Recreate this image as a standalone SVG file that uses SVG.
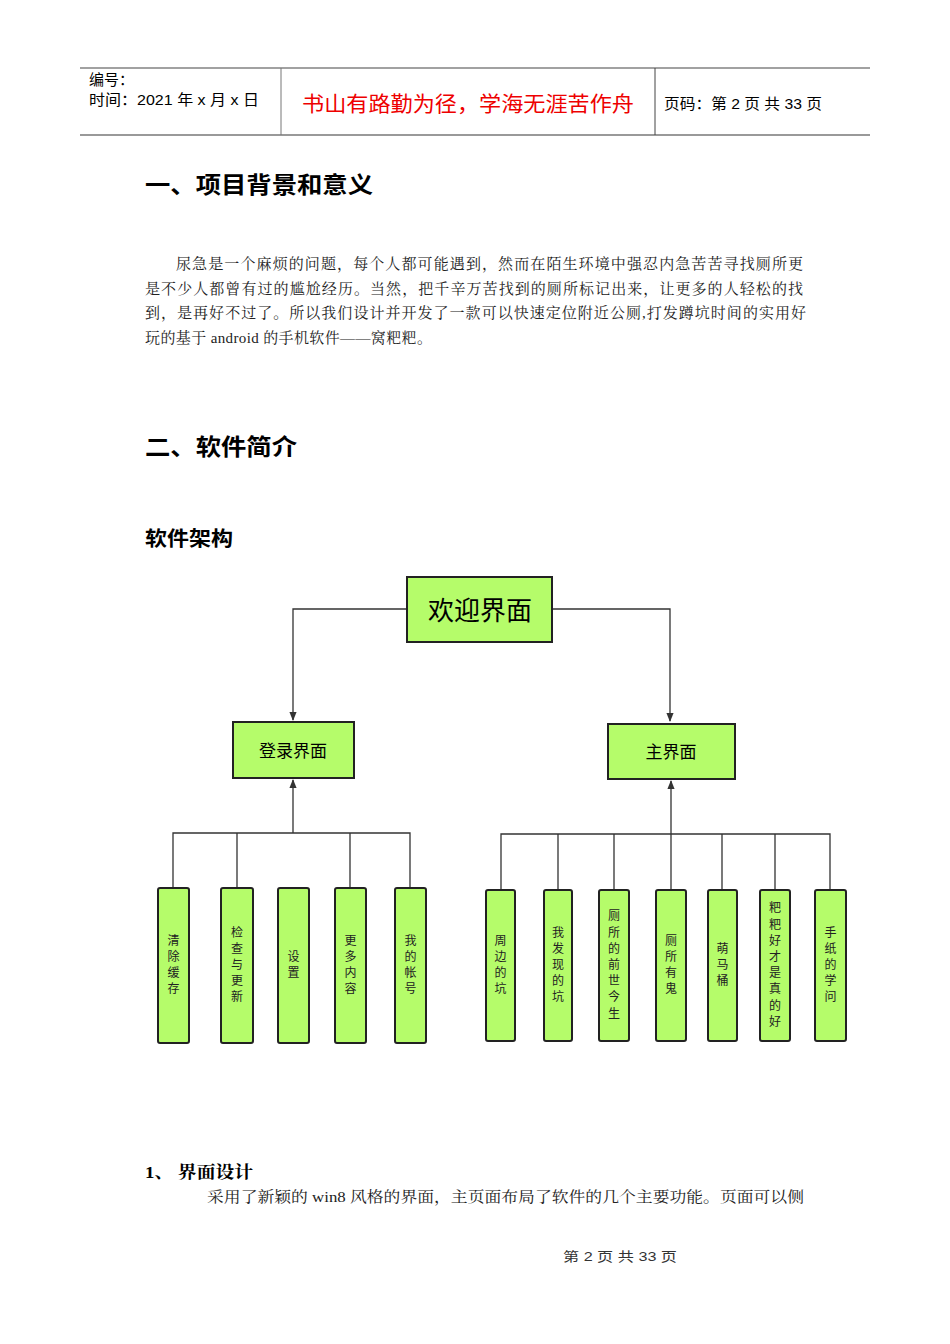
<svg xmlns="http://www.w3.org/2000/svg" width="950" height="1344" viewBox="0 0 950 1344">
<defs><style>
.s{font-family:"Liberation Sans","Noto Sans CJK SC",sans-serif}
.r{font-family:"Liberation Serif","Noto Serif CJK SC","Noto Sans CJK SC",serif}
.b{fill:#b5fc6a;stroke:#222;stroke-width:2}
.c{fill:none;stroke:#333;stroke-width:1.3}
.v{font-family:"Noto Sans CJK SC",sans-serif;font-size:12px;fill:#222;text-anchor:middle}
</style>
<marker id="a" viewBox="0 0 10 10" refX="9" refY="5" markerWidth="7" markerHeight="9" orient="auto"><path d="M0,1 L10,5 L0,9z" fill="#333"/></marker></defs>
<rect width="950" height="1344" fill="#fff"/>
<g id="header">
<line x1="80" y1="68" x2="870" y2="68" stroke="#444" stroke-width="1.2"/>
<line x1="80" y1="135" x2="870" y2="135" stroke="#777" stroke-width="1.5"/>
<line x1="281" y1="68" x2="281" y2="135" stroke="#777"/>
<line x1="655" y1="68" x2="655" y2="135" stroke="#444"/>
<text x="89" y="85" class="s" font-size="15">编号：</text>
<text x="89" y="105" class="s" font-size="15" textLength="170" lengthAdjust="spacingAndGlyphs">时间：2021 年 x 月 x 日</text>
<text x="302" y="111" class="s" font-size="21" fill="#e00" textLength="332" lengthAdjust="spacingAndGlyphs">书山有路勤为径，学海无涯苦作舟</text>
<text x="664" y="109" class="s" font-size="15" textLength="158" lengthAdjust="spacingAndGlyphs">页码：第 2 页  共 33 页</text>
</g>
<text x="145" y="193" class="s" font-size="23" font-weight="bold" textLength="228" lengthAdjust="spacingAndGlyphs">一、项目背景和意义</text>
<g class="r" font-size="15" fill="#222" lengthAdjust="spacingAndGlyphs">
<text x="176" y="269" textLength="627">尿急是一个麻烦的问题，每个人都可能遇到，然而在陌生环境中强忍内急苦苦寻找厕所更</text>
<text x="145" y="294" textLength="658">是不少人都曾有过的尴尬经历。当然，把千辛万苦找到的厕所标记出来，让更多的人轻松的找</text>
<text x="145" y="318" textLength="661">到，是再好不过了。所以我们设计并开发了一款可以快速定位附近公厕,打发蹲坑时间的实用好</text>
<text x="145" y="343" textLength="287">玩的基于 android 的手机软件——窝粑粑。</text>
</g>
<text x="145" y="455" class="s" font-size="23" font-weight="bold" textLength="152" lengthAdjust="spacingAndGlyphs">二、软件简介</text>
<text x="145" y="546" class="s" font-size="20" font-weight="bold" textLength="88" lengthAdjust="spacingAndGlyphs">软件架构</text>
<g id="connectors">
<path class="c" d="M407,609 H293 V720" marker-end="url(#a)"/>
<path class="c" d="M552,609 H670 V721" marker-end="url(#a)"/>
<path class="c" d="M173,888 V833 H410 V888 M237,833 V888 M350,833 V888 M293,833 V780" marker-end="url(#a)"/>
<path class="c" d="M501,890 V834 H830 V890 M558,834 V890 M614,834 V890 M722,834 V890 M775,834 V890 M671,834 V781" marker-end="url(#a)"/>
<path class="c" d="M671,834 V890"/>
</g>
<g id="n-welcome"><rect class="b" x="407" y="577" width="145" height="65"/><text x="480" y="620" class="s" font-size="26" text-anchor="middle">欢迎界面</text></g>
<g id="n-login"><rect class="b" x="233" y="722" width="121" height="56"/><text x="293" y="757" class="s" font-size="17" text-anchor="middle">登录界面</text></g>
<g id="n-main"><rect class="b" x="608" y="724" width="127" height="55"/><text x="671" y="758" class="s" font-size="17" text-anchor="middle">主界面</text></g>
<g id="n1"><rect class="b" x="158" y="888" width="31" height="155" rx="2"/><text class="v"><tspan x="173.5" y="945">清</tspan><tspan x="173.5" y="961">除</tspan><tspan x="173.5" y="977">缓</tspan><tspan x="173.5" y="993">存</tspan></text></g>
<g id="n2"><rect class="b" x="221" y="888" width="32" height="155" rx="2"/><text class="v"><tspan x="237" y="937">检</tspan><tspan x="237" y="953">查</tspan><tspan x="237" y="969">与</tspan><tspan x="237" y="985">更</tspan><tspan x="237" y="1001">新</tspan></text></g>
<g id="n3"><rect class="b" x="278" y="888" width="31" height="155" rx="2"/><text class="v"><tspan x="293.5" y="961">设</tspan><tspan x="293.5" y="977">置</tspan></text></g>
<g id="n4"><rect class="b" x="335" y="888" width="31" height="155" rx="2"/><text class="v"><tspan x="350.5" y="945">更</tspan><tspan x="350.5" y="961">多</tspan><tspan x="350.5" y="977">内</tspan><tspan x="350.5" y="993">容</tspan></text></g>
<g id="n5"><rect class="b" x="395" y="888" width="31" height="155" rx="2"/><text class="v"><tspan x="410.5" y="945">我</tspan><tspan x="410.5" y="961">的</tspan><tspan x="410.5" y="977">帐</tspan><tspan x="410.5" y="993">号</tspan></text></g>
<g id="n6"><rect class="b" x="486" y="890" width="29" height="151" rx="2"/><text class="v"><tspan x="500.5" y="945">周</tspan><tspan x="500.5" y="961">边</tspan><tspan x="500.5" y="977">的</tspan><tspan x="500.5" y="993">坑</tspan></text></g>
<g id="n7"><rect class="b" x="544" y="890" width="28" height="151" rx="2"/><text class="v"><tspan x="558" y="937">我</tspan><tspan x="558" y="953">发</tspan><tspan x="558" y="969">现</tspan><tspan x="558" y="985">的</tspan><tspan x="558" y="1001">坑</tspan></text></g>
<g id="n8"><rect class="b" x="599" y="890" width="30" height="151" rx="2"/><text class="v"><tspan x="614" y="920">厕</tspan><tspan x="614" y="937">所</tspan><tspan x="614" y="953">的</tspan><tspan x="614" y="969">前</tspan><tspan x="614" y="985">世</tspan><tspan x="614" y="1001">今</tspan><tspan x="614" y="1018">生</tspan></text></g>
<g id="n9"><rect class="b" x="656" y="890" width="30" height="151" rx="2"/><text class="v"><tspan x="671" y="945">厕</tspan><tspan x="671" y="961">所</tspan><tspan x="671" y="977">有</tspan><tspan x="671" y="993">鬼</tspan></text></g>
<g id="n10"><rect class="b" x="708" y="890" width="29" height="151" rx="2"/><text class="v"><tspan x="722.5" y="953">萌</tspan><tspan x="722.5" y="969">马</tspan><tspan x="722.5" y="985">桶</tspan></text></g>
<g id="n11"><rect class="b" x="760" y="890" width="30" height="151" rx="2"/><text class="v"><tspan x="775" y="912">粑</tspan><tspan x="775" y="929">粑</tspan><tspan x="775" y="945">好</tspan><tspan x="775" y="961">才</tspan><tspan x="775" y="977">是</tspan><tspan x="775" y="993">真</tspan><tspan x="775" y="1010">的</tspan><tspan x="775" y="1026">好</tspan></text></g>
<g id="n12"><rect class="b" x="815" y="890" width="31" height="151" rx="2"/><text class="v"><tspan x="830.5" y="937">手</tspan><tspan x="830.5" y="953">纸</tspan><tspan x="830.5" y="969">的</tspan><tspan x="830.5" y="985">学</tspan><tspan x="830.5" y="1001">问</tspan></text></g>
<text x="145" y="1178" class="r" font-size="17" font-weight="bold" textLength="108" lengthAdjust="spacingAndGlyphs">1、 界面设计</text>
<text x="207" y="1202" class="r" font-size="15" fill="#222" textLength="597" lengthAdjust="spacingAndGlyphs">采用了新颖的 win8 风格的界面，主页面布局了软件的几个主要功能。页面可以侧</text>
<text x="563" y="1261" class="s" font-size="13" fill="#333" textLength="114" lengthAdjust="spacingAndGlyphs">第 2 页 共 33 页</text>
</svg>
